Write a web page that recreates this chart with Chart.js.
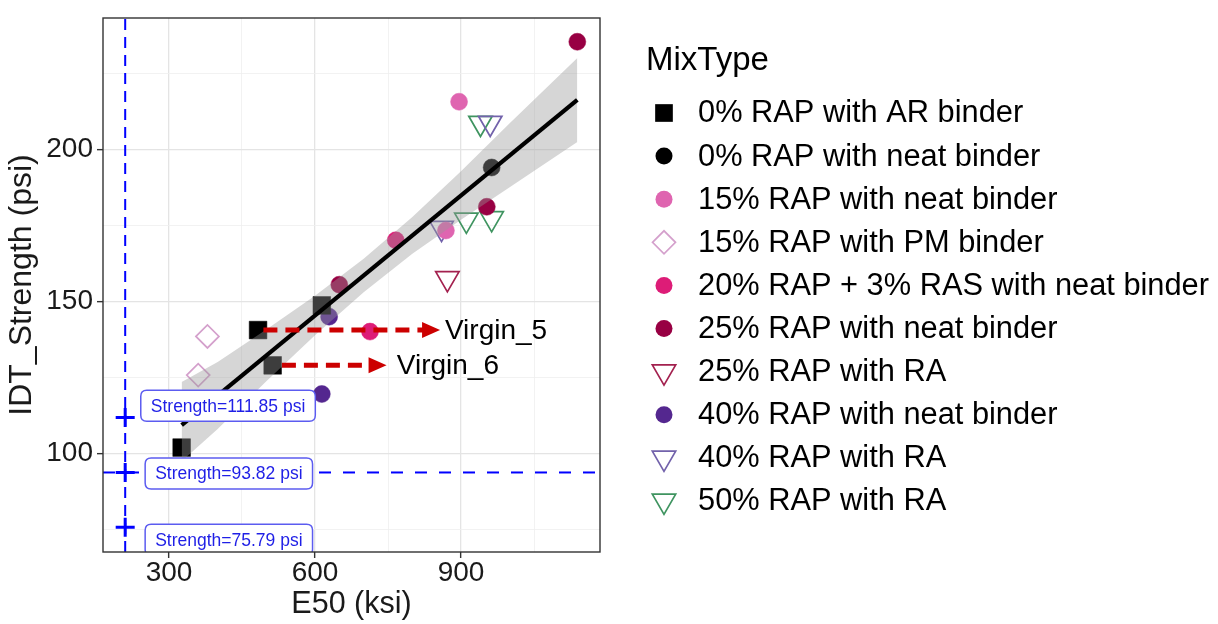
<!DOCTYPE html>
<html>
<head>
<meta charset="utf-8">
<script src="https://cdn.jsdelivr.net/npm/chart.js@4.4.1/dist/chart.umd.min.js"></script>
<style>
  html, body { margin: 0; padding: 0; background: #fff; }
</style>
</head>
<body>
<canvas id="chart" width="1218" height="624"></canvas>
<script>
// ====== Data ======
const mixTypes = [
  '0% RAP with AR binder',
  '0% RAP with neat binder',
  '15% RAP with neat binder',
  '15% RAP with PM binder',
  '20% RAP + 3% RAS with neat binder',
  '25% RAP with neat binder',
  '25% RAP with RA',
  '40% RAP with neat binder',
  '40% RAP with RA',
  '50% RAP with RA'
];
const e50 = [
  [483, 614, 513, 326],
  [963],
  [896, 869],
  [379, 360],
  [766, 713],
  [1139, 953, 650],
  [872],
  [629, 614],
  [960, 860],
  [940, 911, 963]
];
const idtStrength = [
  [140.6, 148.7, 129.0, 102.0],
  [194.0],
  [215.6, 173.3],
  [138.5, 125.8],
  [170.1, 140.1],
  [235.3, 181.1, 155.5],
  [157.6],
  [145.0, 119.6],
  [208.6, 174.1],
  [208.6, 176.8, 177.3]
];

// linear fit + confidence band
const fitE50 = [326, 1139];
const fitIDT = [109.4, 216.2];
const bandE50   = [326, 400, 500, 600, 700, 800, 900, 1000, 1139];
const bandUpper = [123.5, 130.1, 140.8, 151.9, 164.0, 177.7, 192.8, 208.5, 230.0];
const bandLower = [97.5, 108.1, 123.8, 138.9, 153.0, 165.7, 176.8, 187.5, 202.4];

// reference marks
const refE50 = 210;
const refStrength = [111.85, 93.82, 75.79];
const refLabelE50 = [242, 251, 251];
const refLabelIDT = [115.7, 93.5, 71.7];

// arrows
const arrowText = ['Virgin_5', 'Virgin_6'];
const arrowFromE50 = [494, 532];
const arrowToE50 = [857, 747];
const arrowIDT = [140.6, 129.0];
const arrowTextE50 = [867, 768];

// axes
const xMin = 164.4, xMax = 1185.6;
const yMin = 67.7, yMax = 243.1;
const xGrid = [300, 450, 600, 750, 900, 1050];
const yGrid = [75, 100, 125, 150, 175, 200, 225];

// ====== Styles ======
const FONT = '"Liberation Sans", Arial, Helvetica, sans-serif';
const mixColors = ['#000000', '#000000', '#df65b0', '#d4a0cc', '#dd1c77', '#980043', '#a3214f', '#54278f', '#7262ab', '#3f9460'];
const mixShapes = ['rect', 'circle', 'circle', 'rectRot', 'circle', 'circle', 'triangle', 'circle', 'triangle', 'triangle'];
const hollow = s => s === 'rectRot' || s === 'triangle';
const shapeRadius = { rect: 12.5, circle: 8.5, rectRot: 11.5, triangle: 13.5 };

// ====== Datasets ======
const pts = (xs, ys) => xs.map((v, i) => ({ x: v, y: ys[i] }));

const datasets = [
  {
    label: 'fit', data: pts(fitE50, fitIDT), showLine: true,
    borderColor: '#000', borderWidth: 4.2, pointRadius: 0, order: 0
  },
  {
    label: 'band-upper', data: pts(bandE50, bandUpper), showLine: true,
    borderWidth: 0, borderColor: 'rgba(0,0,0,0)', pointRadius: 0,
    fill: '+1', backgroundColor: 'rgba(153,153,153,0.4)', order: 1
  },
  {
    label: 'band-lower', data: pts(bandE50, bandLower), showLine: true,
    borderWidth: 0, borderColor: 'rgba(0,0,0,0)', pointRadius: 0, order: 2
  },
  {
    label: 'ref-v', data: [{ x: refE50, y: yMin }, { x: refE50, y: yMax }], showLine: true,
    borderColor: '#0000ff', borderWidth: 2, borderDash: [11, 7], pointRadius: 0, order: 30
  },
  {
    label: 'ref-h', data: [{ x: xMin, y: refStrength[1] }, { x: xMax, y: refStrength[1] }], showLine: true,
    borderColor: '#0000ff', borderWidth: 2, borderDash: [12, 12], pointRadius: 0, order: 30
  },
  {
    label: 'ref-pts', data: refStrength.map(v => ({ x: refE50, y: v })),
    pointStyle: 'cross', pointRadius: 9.5, pointBorderWidth: 3, pointBorderColor: '#0000ff', order: 0
  }
];

mixTypes.forEach((name, i) => {
  const shape = mixShapes[i];
  datasets.push({
    label: name,
    data: pts(e50[i], idtStrength[i]),
    pointStyle: shape,
    rotation: shape === 'triangle' ? 180 : 0,
    pointRadius: shapeRadius[shape],
    pointBackgroundColor: hollow(shape) ? 'rgba(0,0,0,0)' : mixColors[i],
    pointBorderColor: mixColors[i],
    pointBorderWidth: hollow(shape) ? 1.7 : 0.5,
    order: 3 + i
  });
});

// ====== Drawing helpers ======
function shapePath(ctx, shape, x, y, r) {
  ctx.beginPath();
  if (shape === 'rect') {
    const h = r * Math.SQRT1_2;
    ctx.rect(x - h, y - h, 2 * h, 2 * h);
  } else if (shape === 'circle') {
    ctx.arc(x, y, r, 0, Math.PI * 2);
  } else if (shape === 'rectRot') {
    ctx.moveTo(x - r, y); ctx.lineTo(x, y - r); ctx.lineTo(x + r, y); ctx.lineTo(x, y + r);
    ctx.closePath();
  } else if (shape === 'triangle') {
    const w = r * Math.sqrt(3) / 2;
    ctx.moveTo(x, y + r); ctx.lineTo(x - w, y - r / 2); ctx.lineTo(x + w, y - r / 2);
    ctx.closePath();
  }
}

function roundBox(ctx, x, y, w, h, r) {
  ctx.beginPath();
  ctx.moveTo(x + r, y);
  ctx.lineTo(x + w - r, y); ctx.quadraticCurveTo(x + w, y, x + w, y + r);
  ctx.lineTo(x + w, y + h - r); ctx.quadraticCurveTo(x + w, y + h, x + w - r, y + h);
  ctx.lineTo(x + r, y + h); ctx.quadraticCurveTo(x, y + h, x, y + h - r);
  ctx.lineTo(x, y + r); ctx.quadraticCurveTo(x, y, x + r, y);
  ctx.closePath();
}

const overlay = {
  id: 'overlay',
  afterDatasetsDraw(chart) {
    const { ctx, chartArea: a, scales: { x, y } } = chart;
    ctx.save();
    ctx.beginPath();
    ctx.rect(a.left, a.top, a.right - a.left, a.bottom - a.top);
    ctx.clip();

    // red arrows + texts
    arrowIDT.forEach((v, i) => {
      const py = y.getPixelForValue(v);
      const x0 = x.getPixelForValue(arrowFromE50[i]);
      const x1 = x.getPixelForValue(arrowToE50[i]);
      ctx.strokeStyle = '#cc0000';
      ctx.lineWidth = 5;
      ctx.setLineDash([14, 8]);
      ctx.beginPath(); ctx.moveTo(x0, py); ctx.lineTo(x1 - 15, py); ctx.stroke();
      ctx.setLineDash([]);
      ctx.fillStyle = '#cc0000';
      ctx.beginPath();
      ctx.moveTo(x1, py); ctx.lineTo(x1 - 18, py - 8); ctx.lineTo(x1 - 18, py + 8);
      ctx.closePath(); ctx.fill();
      ctx.fillStyle = '#000';
      ctx.font = `28px ${FONT}`;
      ctx.textAlign = 'left';
      ctx.textBaseline = 'middle';
      ctx.fillText(arrowText[i], x.getPixelForValue(arrowTextE50[i]), py + 1);
    });

    // strength labels
    ctx.font = `17.5px ${FONT}`;
    refStrength.forEach((v, i) => {
      const txt = `Strength=${v.toFixed(2)} psi`;
      const w = ctx.measureText(txt).width + 20;
      const h = 31;
      const bx = x.getPixelForValue(refLabelE50[i]);
      const by = y.getPixelForValue(refLabelIDT[i]) - h / 2;
      roundBox(ctx, bx, by, w, h, 6);
      ctx.fillStyle = '#fff';
      ctx.fill();
      ctx.strokeStyle = '#5c5cf0';
      ctx.lineWidth = 1.5;
      ctx.stroke();
      ctx.fillStyle = '#1f1fe6';
      ctx.textAlign = 'center';
      ctx.textBaseline = 'middle';
      ctx.fillText(txt, bx + w / 2, by + h / 2 + 1);
    });
    ctx.restore();

    // panel border
    ctx.save();
    ctx.strokeStyle = '#333';
    ctx.lineWidth = 1.4;
    ctx.strokeRect(a.left, a.top, a.right - a.left, a.bottom - a.top);
    ctx.restore();
  },
  afterDraw(chart) {
    const { ctx } = chart;
    ctx.save();
    ctx.fillStyle = '#000';
    ctx.textAlign = 'left';
    ctx.textBaseline = 'middle';
    ctx.font = `33px ${FONT}`;
    ctx.fillText('MixType', 646, 61);
    ctx.font = `30.8px ${FONT}`;
    mixTypes.forEach((name, i) => {
      const cy = 113 + i * 43.1;
      const shape = mixShapes[i];
      shapePath(ctx, shape, 664, cy, shapeRadius[shape]);
      if (hollow(shape)) {
        ctx.strokeStyle = mixColors[i];
        ctx.lineWidth = 1.7;
        ctx.stroke();
      } else {
        ctx.fillStyle = mixColors[i];
        ctx.fill();
      }
      ctx.fillStyle = '#000';
      ctx.fillText(name, 698, cy + 1);
    });
    ctx.restore();
  }
};

// ====== Chart ======
new Chart(document.getElementById('chart'), {
  type: 'scatter',
  data: { datasets },
  plugins: [overlay],
  options: {
    responsive: false,
    animation: false,
    devicePixelRatio: 1,
    layout: { padding: { left: 0, top: 10, right: 618, bottom: 0 } },
    plugins: {
      legend: { display: false },
      tooltip: { enabled: false }
    },
    scales: {
      x: {
        type: 'linear', min: xMin, max: xMax,
        afterBuildTicks: s => { s.ticks = xGrid.map(v => ({ value: v })); },
        afterFit: s => { s.height = 72; },
        ticks: {
          autoSkip: false, maxRotation: 0, padding: 1, color: '#1a1a1a',
          font: { family: FONT, size: 28, lineHeight: 1 },
          callback: v => (v % 300 === 0 ? v : '')
        },
        grid: {
          color: c => (c.tick && c.tick.value % 300 === 0 ? '#e4e4e4' : '#efefef'),
          lineWidth: c => (c.tick && c.tick.value % 300 === 0 ? 1.3 : 0.8),
          tickColor: c => (c.tick && c.tick.value % 300 === 0 ? '#333' : 'rgba(0,0,0,0)'),
          tickLength: 6, tickWidth: 1.4
        },
        border: { display: false },
        title: {
          display: true, text: 'E50 (ksi)', color: '#1a1a1a',
          font: { family: FONT, size: 30.5, lineHeight: 1 },
          padding: { top: 0, bottom: 4 }
        }
      },
      y: {
        type: 'linear', min: yMin, max: yMax,
        afterBuildTicks: s => { s.ticks = yGrid.map(v => ({ value: v })); },
        afterFit: s => { s.width = 103; },
        ticks: {
          autoSkip: false, padding: 4, color: '#1a1a1a',
          font: { family: FONT, size: 28, lineHeight: 1 },
          callback: v => (v % 50 === 0 ? v : '')
        },
        grid: {
          color: c => (c.tick && c.tick.value % 50 === 0 ? '#e4e4e4' : '#efefef'),
          lineWidth: c => (c.tick && c.tick.value % 50 === 0 ? 1.3 : 0.8),
          tickColor: c => (c.tick && c.tick.value % 50 === 0 ? '#333' : 'rgba(0,0,0,0)'),
          tickLength: 6, tickWidth: 1.4
        },
        border: { display: false },
        title: {
          display: true, text: 'IDT_Strength (psi)', color: '#1a1a1a',
          font: { family: FONT, size: 32, lineHeight: 1 },
          padding: { top: 6, bottom: 0 }
        }
      }
    }
  }
});
</script>
</body>
</html>
